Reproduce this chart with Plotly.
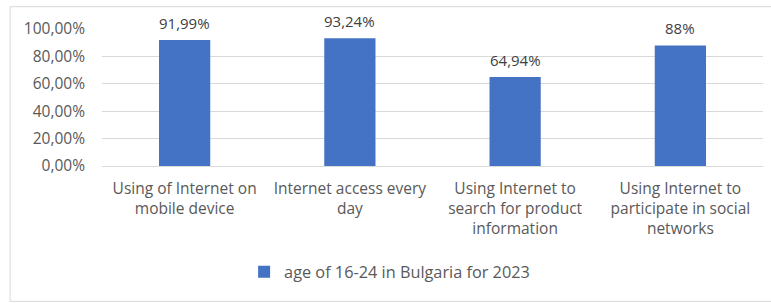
import plotly.graph_objects as go

categories = [
    "Using of Internet on<br>mobile device",
    "Internet access every<br>day",
    "Using Internet to<br>search for product<br>information",
    "Using Internet to<br>participate in social<br>networks",
]
values = [0.9199, 0.9324, 0.6494, 0.88]
value_labels = ["91,99%", "93,24%", "64,94%", "88%"]
series_name = "age of 16-24 in Bulgaria for 2023"
y_ticks = [0, 0.2, 0.4, 0.6, 0.8, 1.0]
y_tick_labels = ["0,00%", "20,00%", "40,00%", "60,00%", "80,00%", "100,00%"]

FONT = "Open Sans, Noto Sans, sans-serif"

fig = go.Figure()
fig.add_trace(go.Bar(
    x=categories, y=values, name=series_name,
    marker=dict(color="#4472C4", line=dict(width=0)),
    width=0.31, showlegend=True,
))

for c, v, t in zip(categories, values, value_labels):
    fig.add_annotation(x=c, y=v, text=t, showarrow=False, yanchor="bottom",
                       yshift=5, font=dict(family=FONT, size=15, color="#404040"))

fig.add_shape(type="rect", xref="paper", yref="paper",
              x0=-0.139, x1=1.03, y0=-0.988, y1=1.163,
              line=dict(color="#d9d9d9", width=1), layer="below")

fig.update_layout(
    width=771, height=303,
    margin=dict(l=102, r=8, t=29, b=137),
    paper_bgcolor="white", plot_bgcolor="white",
    font=dict(family=FONT, size=15, color="#595959"),
    showlegend=True,
    legend=dict(orientation="h", x=0.215, xanchor="left", y=-0.775, yanchor="middle",
                font=dict(family=FONT, size=16.3, color="#595959"),
                itemwidth=30, traceorder="normal"),
    xaxis=dict(showgrid=False, showline=True, linecolor="#d9d9d9", ticks="",
               tickfont=dict(family=FONT, size=15.5, color="#595959"),
               ticklabelstandoff=8, automargin=False),
    yaxis=dict(range=[0, 1.0], tickvals=y_ticks, ticktext=y_tick_labels,
               showgrid=True, gridcolor="#d9d9d9", gridwidth=1, zeroline=False,
               showline=False, ticks="", ticklabelstandoff=16, automargin=False,
               tickfont=dict(family=FONT, size=15.5, color="#595959")),
)

fig.write_html("out.html", config={"displayModeBar": False},
               post_script="document.body.style.margin='0';document.body.style.overflow='hidden';")
